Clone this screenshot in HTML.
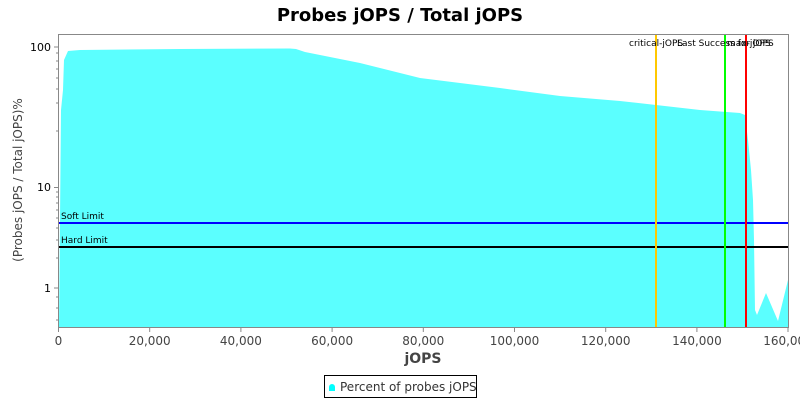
<!DOCTYPE html>
<html><head><meta charset="utf-8"><style>body{margin:0;background:#fff}svg{display:block}</style></head><body>
<svg width="800" height="400" xmlns="http://www.w3.org/2000/svg" font-family="Liberation Sans, DejaVu Sans, sans-serif">
<rect width="800" height="400" fill="#fff"/>
<text x="400" y="21" text-anchor="middle" font-size="18" font-weight="bold" font-family="DejaVu Sans, sans-serif">Probes jOPS / Total jOPS</text>
<polygon fill="#5bffff" points="59,327 61,110 63,90 64,60 68,51 80,50 180,49 290,48.5 296,49 305,52 360,63 420,78 500,88 560,96 620,101 656,105 700,110 740,113 745,115 748,140 751,170 753,200 754,240 755,310 757,315 766,293 778,321 788,280 788,327"/>
<rect x="58.5" y="34.5" width="730" height="293" fill="none" stroke="#888"/>
<line x1="59" y1="223" x2="788" y2="223" stroke="#0000ff" stroke-width="2"/>
<line x1="59" y1="247" x2="788" y2="247" stroke="#000" stroke-width="2"/>
<text x="61" y="219" font-size="9" font-family="DejaVu Sans, sans-serif">Soft Limit</text>
<text x="61" y="243" font-size="9" font-family="DejaVu Sans, sans-serif">Hard Limit</text>
<line x1="656" y1="35" x2="656" y2="327" stroke="#ffc800" stroke-width="2"/>
<line x1="725" y1="35" x2="725" y2="327" stroke="#00ff00" stroke-width="2"/>
<line x1="746" y1="35" x2="746" y2="327" stroke="#ff0000" stroke-width="2"/>
<g font-size="9" font-family="DejaVu Sans, sans-serif">
<text x="629" y="46">critical-jOPS</text>
<text x="677" y="46">Last Success for jOPS</text>
<text x="727" y="46">max-jOPS</text>
</g>
<g stroke="#888">
<line x1="54" y1="47" x2="58" y2="47"/><line x1="54" y1="187.5" x2="58" y2="187.5"/><line x1="54" y1="288" x2="58" y2="288"/>
<line x1="56" y1="53" x2="58" y2="53"/><line x1="56" y1="61" x2="58" y2="61"/><line x1="56" y1="69" x2="58" y2="69"/><line x1="56" y1="78" x2="58" y2="78"/><line x1="56" y1="89" x2="58" y2="89"/><line x1="56" y1="103" x2="58" y2="103"/><line x1="56" y1="131" x2="58" y2="131"/>
<line x1="56" y1="192" x2="58" y2="192"/><line x1="56" y1="197" x2="58" y2="197"/><line x1="56" y1="203" x2="58" y2="203"/><line x1="56" y1="210" x2="58" y2="210"/><line x1="56" y1="218" x2="58" y2="218"/><line x1="56" y1="228" x2="58" y2="228"/><line x1="56" y1="240" x2="58" y2="240"/><line x1="56" y1="258" x2="58" y2="258"/>
<line x1="56" y1="297" x2="58" y2="297"/><line x1="56" y1="308" x2="58" y2="308"/><line x1="56" y1="320" x2="58" y2="320"/>
</g>
<g font-size="11" text-anchor="end" font-family="DejaVu Sans, sans-serif">
<text x="51" y="51">100</text><text x="51" y="191">10</text><text x="51" y="292">1</text>
</g>
<g stroke="#888">
<line x1="58.5" y1="328" x2="58.5" y2="332"/><line x1="149.7" y1="328" x2="149.7" y2="332"/><line x1="240.9" y1="328" x2="240.9" y2="332"/><line x1="332.1" y1="328" x2="332.1" y2="332"/><line x1="423.3" y1="328" x2="423.3" y2="332"/><line x1="514.5" y1="328" x2="514.5" y2="332"/><line x1="605.7" y1="328" x2="605.7" y2="332"/><line x1="696.9" y1="328" x2="696.9" y2="332"/><line x1="788" y1="328" x2="788" y2="332"/>
</g>
<g font-size="12" fill="#444" text-anchor="middle" font-family="DejaVu Sans, sans-serif">
<text x="58.5" y="345">0</text><text x="149.7" y="345">20,000</text><text x="240.9" y="345">40,000</text><text x="332.1" y="345">60,000</text><text x="423.3" y="345">80,000</text><text x="514.5" y="345">100,000</text><text x="605.7" y="345">120,000</text><text x="696.9" y="345">140,000</text><text x="788" y="345">160,000</text>
</g>
<text x="423" y="363" text-anchor="middle" font-size="14" font-weight="bold" fill="#444" font-family="DejaVu Sans, sans-serif">jOPS</text>
<text transform="translate(22,180) rotate(-90)" text-anchor="middle" font-size="12" fill="#444" font-family="DejaVu Sans, sans-serif">(Probes jOPS / Total jOPS)%</text>
<rect x="324.5" y="375.5" width="152" height="22" fill="#fff" stroke="#000"/>
<path d="M329,391 L329,387 A3,3 0 0 1 335,387 L335,391 Z" fill="#00ffff"/>
<text x="340" y="391" font-size="12" fill="#333" font-family="DejaVu Sans, sans-serif">Percent of probes jOPS</text>
</svg>
</body></html>
